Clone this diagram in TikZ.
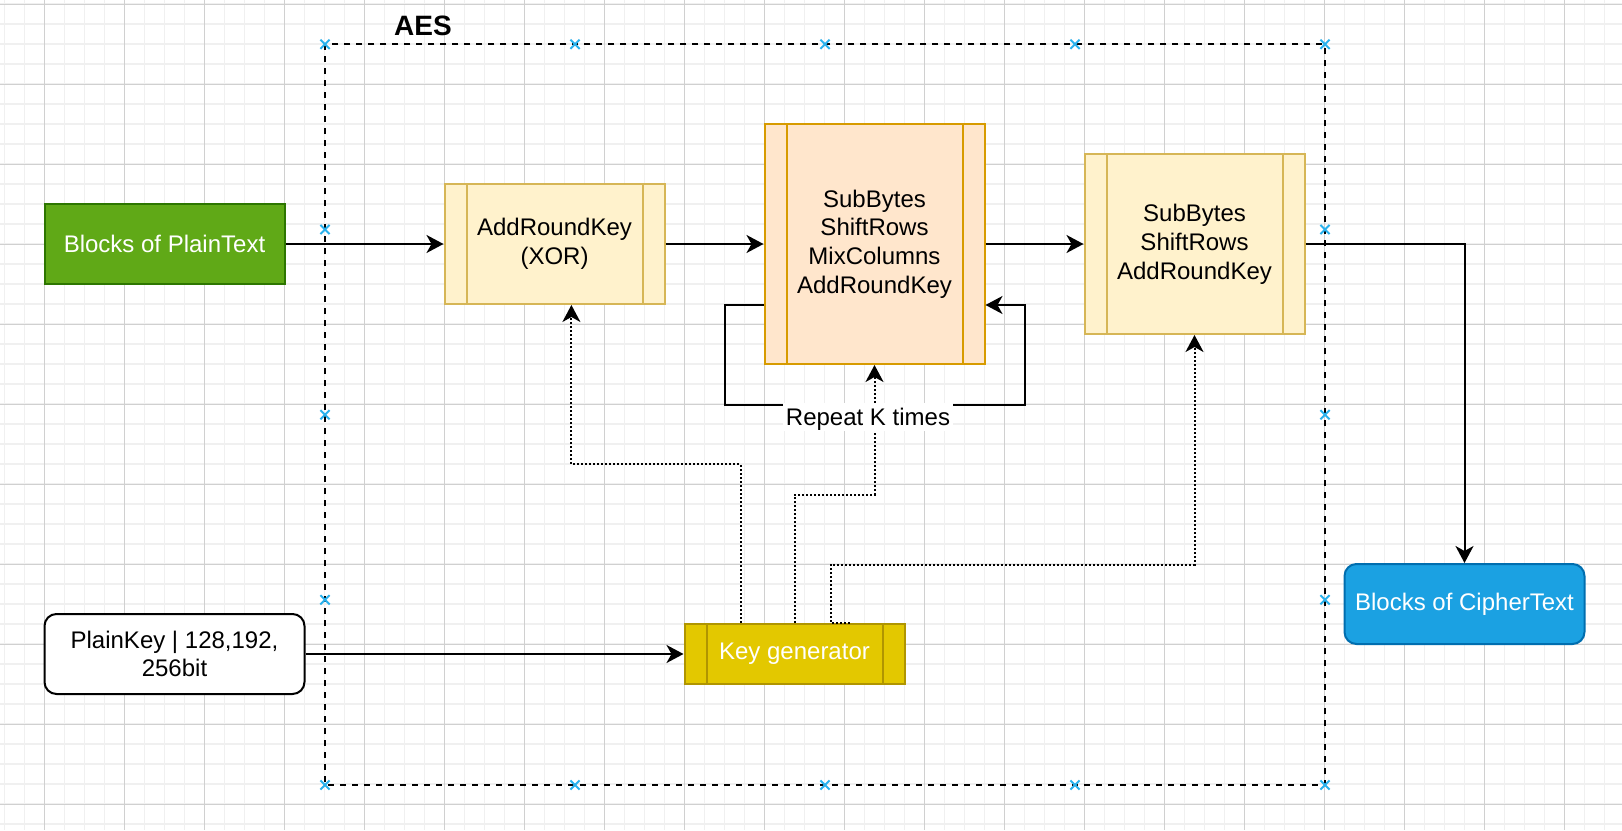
\documentclass[tikz,border=0pt]{standalone}
\usepackage{fontspec}
\setmainfont{Liberation Sans}
\usetikzlibrary{arrows.meta,calc}
\definecolor{gridMinor}{HTML}{F0F0F0}
\definecolor{gridMajor}{HTML}{D0D0D0}
\definecolor{ptF}{HTML}{60A917}
\definecolor{ptD}{HTML}{2D7600}
\definecolor{arkF}{HTML}{FFF2CC}
\definecolor{arkD}{HTML}{D6B656}
\definecolor{midF}{HTML}{FFE6CC}
\definecolor{midD}{HTML}{D79B00}
\definecolor{kgF}{HTML}{E3C800}
\definecolor{kgD}{HTML}{B09500}
\definecolor{ctF}{HTML}{1BA1E2}
\definecolor{ctD}{HTML}{006EAF}
\definecolor{mark}{HTML}{2AB2EE}
\begin{document}
\begin{tikzpicture}[x=1pt,y=-1pt,
  gridminor/.style={draw=gridMinor,line width=0.6pt},
  gridmajor/.style={draw=gridMajor,line width=0.5pt},
  box/.style={draw,line width=1pt,inner sep=2pt,align=center,font=\fontsize{12}{14.4}\selectfont},
  proc/.style={box,path picture={
     \draw[line width=1pt,#1] ([xshift=11pt]path picture bounding box.north west) -- ([xshift=11pt]path picture bounding box.south west);
     \draw[line width=1pt,#1] ([xshift=-11pt]path picture bounding box.north east) -- ([xshift=-11pt]path picture bounding box.south east);}},
  arr/.style={line width=1pt,-{Stealth[length=8.5pt,width=9pt,inset=2.5pt]}},
  dotarr/.style={line width=1pt,dash pattern=on 1pt off 1pt,-{Stealth[length=8.5pt,width=9pt,inset=2.5pt]}},
  frame/.style={draw=black,line width=1pt,dash pattern=on 3pt off 3pt},
  xmark/.style={draw=mark,line width=1pt},
  lbl/.style={fill=white,inner xsep=1.5pt,inner ysep=0pt,text height=11pt,text depth=3pt,anchor=base,font=\fontsize{12}{14.4}\selectfont}
]
\useasboundingbox (0,0) rectangle (811,415);
\fill[white] (0,0) rectangle (811,415);
% grid
\foreach \x in {2.25,12.25,...,811} \draw[gridminor] (\x,0) -- (\x,415);
\foreach \y in {2,12,...,415} \draw[gridminor] (0,\y) -- (811,\y);
\foreach \x in {22.25,62.25,...,811} \draw[gridmajor] (\x,0) -- (\x,415);
\foreach \y in {2,42,...,415} \draw[gridmajor] (0,\y) -- (811,\y);

% AES frame
\draw[frame] (162.5,22.15) rectangle (662.5,392.5);
\node[font=\bfseries\fontsize{14}{16}\selectfont] (aes) at (211.5,13) {AES};
\foreach \x in {162.5,287.5,412.5,537.5,662.5}{
  \foreach \y in {22.15,392.5}{
    \draw[xmark] (\x-2.3,\y-2.3) -- (\x+2.3,\y+2.3) (\x-2.3,\y+2.3) -- (\x+2.3,\y-2.3);
  }
}
\foreach \y in {114.75,207.35,299.9}{
  \foreach \x in {162.5,662.5}{
    \draw[xmark] (\x-2.3,\y-2.3) -- (\x+2.3,\y+2.3) (\x-2.3,\y+2.3) -- (\x+2.3,\y-2.3);
  }
}

% nodes
\node[box,fill=ptF,draw=ptD,text=white,minimum width=120pt,minimum height=40pt] (pt) at (82.25,122) {Blocks of PlainText};
\node[proc=arkD,fill=arkF,draw=arkD,minimum width=110pt,minimum height=60pt] (ark) at (277.25,122) {AddRoundKey\\(XOR)};
\node[proc=midD,fill=midF,draw=midD,minimum width=110pt,minimum height=120pt] (mid) at (437.25,122) {SubBytes\\ShiftRows\\MixColumns\\AddRoundKey};
\node[proc=arkD,fill=arkF,draw=arkD,minimum width=110pt,minimum height=90pt] (fin) at (597.25,122) {SubBytes\\ShiftRows\\AddRoundKey};
\node[proc=kgD,fill=kgF,draw=kgD,text=white,minimum width=110pt,minimum height=30pt] (kg) at (397.25,327) {Key generator};
\node[box,rounded corners=6pt,fill=white,minimum width=130pt,minimum height=40pt] (pk) at (87.25,327) {PlainKey | 128,192,\\256bit};
\node[box,rounded corners=6pt,fill=ctF,draw=ctD,text=white,minimum width=120pt,minimum height=40pt] (ct) at (732.25,302) {Blocks of CipherText};

% main flow
\draw[arr] (pt.east) -- (ark.west);
\draw[arr] (ark.east) -- (mid.west);
\draw[arr] (mid.east) -- (fin.west);
\draw[arr] (fin.east) -| (ct.north);
\draw[arr] (pk.east) -- (kg.west);

% loop
\draw[arr] ([yshift=-30.5pt]mid.west) -- (362.5,152.5) -- (362.5,202.5) -- (512.5,202.5) -- (512.5,152.5) -- ([yshift=-30.5pt]mid.east);

% key distribution
\draw[dotarr] ([xshift=-27pt]kg.north) |- (285.7,232.15) -- ([xshift=8.45pt]ark.south);
\draw[dotarr] (kg.north) |- (437.25,247.35) -- (mid.south);
\draw[dotarr] ([xshift=27.5pt]kg.north) -- ([xshift=18pt]kg.north) |- (597.25,282.35) -- (fin.south);

\node[lbl] (rep) at (434,212.5) {Repeat K times};
\end{tikzpicture}
\end{document}
